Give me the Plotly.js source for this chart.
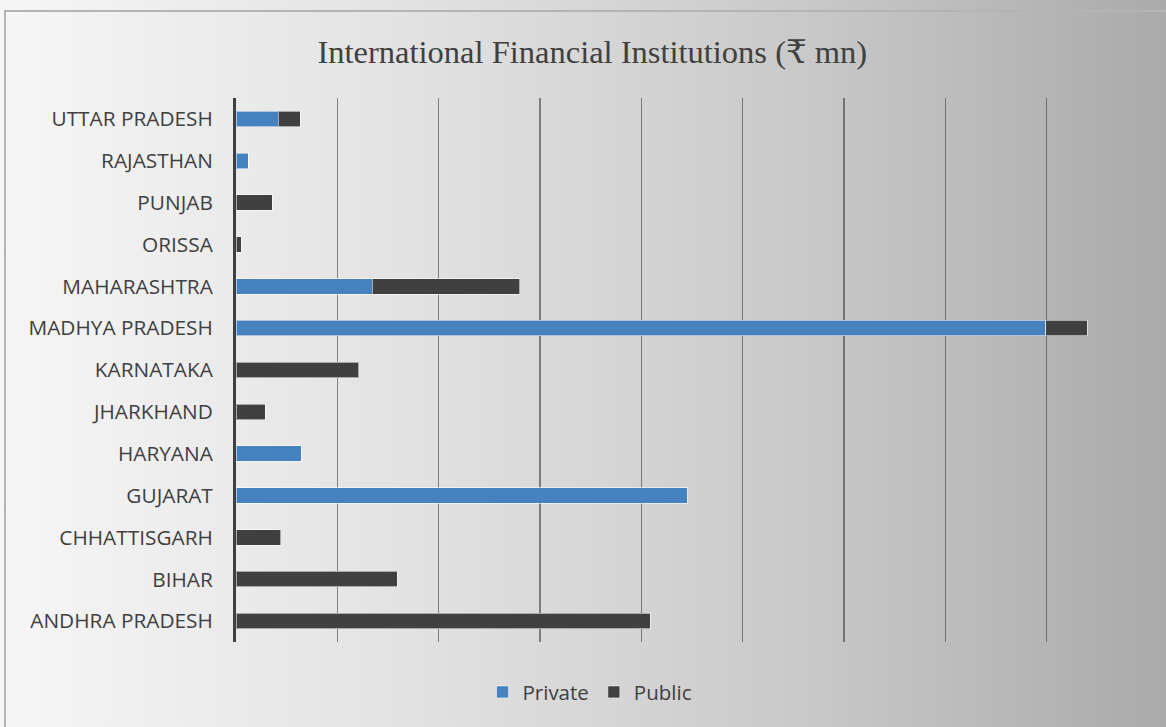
<!DOCTYPE html>
<html>
<head>
<meta charset="utf-8">
<script src="https://cdn.plot.ly/plotly-3.0.1.min.js"></script>
<style>
html,body{margin:0;padding:0;}
body{width:1166px;height:727px;overflow:hidden;background:linear-gradient(90deg,#f6f6f6 0%,#e2e2e2 35%,#c8c8c8 70%,#aaaaaa 100%);position:relative;}
#frame{position:absolute;left:4px;top:10px;width:1200px;height:800px;border-top:2px solid #b4b4b4;border-left:2px solid #b4b4b4;box-sizing:border-box;}
#chart{position:absolute;left:0;top:0;width:1166px;height:727px;}
</style>
</head>
<body>
<div id="frame"></div>
<div id="chart"></div>
<script>
const states = ["ANDHRA PRADESH","BIHAR","CHHATTISGARH","GUJARAT","HARYANA","JHARKHAND","KARNATAKA","MADHYA PRADESH","MAHARASHTRA","ORISSA","PUNJAB","RAJASTHAN","UTTAR PRADESH"];
const privateVals = [0, 0, 0, 2230, 323, 0, 0, 3995, 673, 0, 0, 60, 208];
const publicVals  = [2045, 795, 220, 0, 0, 145, 605, 205, 727, 27, 180, 0, 110];

const barLine = {color:'rgba(255,255,255,0.55)', width:1};
const traces = [
  {type:'bar', orientation:'h', name:'Private', y:states, x:privateVals,
   marker:{color:'#4682bf', line:barLine}, width:0.37},
  {type:'bar', orientation:'h', name:'Public', y:states, x:publicVals,
   marker:{color:'#404040', line:barLine}, width:0.37}
];
const layout = {
  width:1166, height:727,
  paper_bgcolor:'rgba(0,0,0,0)', plot_bgcolor:'rgba(0,0,0,0)',
  barmode:'stack',
  margin:{l:235.5, r:18, t:98, b:85},
  title:{text:'International Financial Institutions (₹ mn)', font:{family:'Liberation Serif, DejaVu Serif, serif', size:32.5, color:'#404040'},
         xref:'container', x:0.508, xanchor:'center', yref:'container', y:0.929, yanchor:'middle'},
  xaxis:{range:[0,4500], dtick:500, tick0:0, showticklabels:false, showgrid:true,
         gridcolor:'rgba(50,50,50,0.55)', gridwidth:1.5, zeroline:false, showline:false, fixedrange:true},
  yaxis:{type:'category', showline:true, linecolor:'#404040', linewidth:3, showgrid:false, zeroline:false,
         ticks:'', ticklabelstandoff:16, tickfont:{family:'Open Sans, sans-serif', size:20.8, color:'#404040'}},
  legend:{orientation:'h', xref:'container', x:0.506, xanchor:'center', yref:'container', y:0.048, yanchor:'middle',
          font:{family:'Open Sans, sans-serif', size:20.5, color:'#404040'}, traceorder:'normal', itemwidth:30},
  showlegend:true
};
Plotly.newPlot('chart', traces, layout, {displayModeBar:false, staticPlot:true});
</script>
</body>
</html>
